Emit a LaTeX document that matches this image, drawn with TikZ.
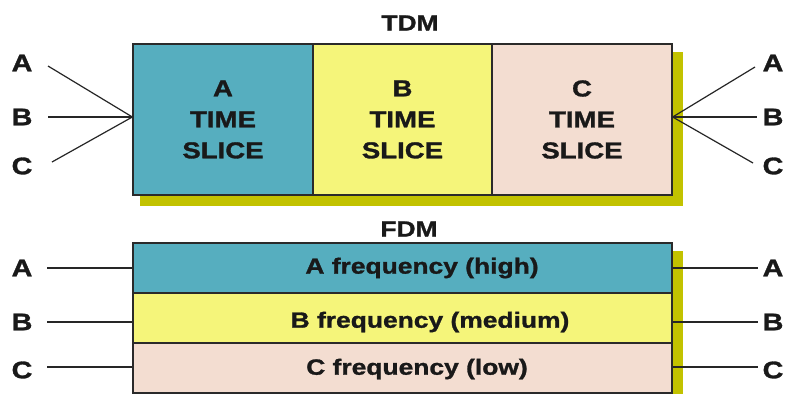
\documentclass[tikz,border=0pt]{standalone}
\usepackage{fontspec}
\setmainfont{Liberation Sans}[FakeStretch=1.2, BoldFeatures={FakeBold=1.3}]
\definecolor{tealA}{HTML}{56AEBF}
\definecolor{yelB}{HTML}{F5F57A}
\definecolor{pinkC}{HTML}{F3DDD1}
\definecolor{shadowc}{HTML}{C2C200}
\definecolor{edgec}{HTML}{2A2A2A}
\tikzset{
  cell/.style={draw=edgec, line width=1.3pt, inner sep=0pt, minimum height=151pt, minimum width=180pt, align=center,
    font=\bfseries\fontsize{23}{31}\selectfont, text=black!90},
  band/.style={draw=edgec, line width=1.3pt, inner sep=0pt, minimum height=50pt, minimum width=539pt},
  bandtxt/.style={font=\bfseries\fontsize{22}{26}\selectfont, text=black!90, inner sep=0pt},
  lbl/.style={font=\bfseries\fontsize{24}{26}\selectfont, text=black!90, inner sep=0pt},
  ttl/.style={font=\bfseries\fontsize{22}{26}\selectfont, text=black!90, inner sep=0pt},
  wire/.style={draw=black!85, line width=1.2pt},
  shadowbox/.style={fill=shadowc, draw=none}
}
\begin{document}
\begin{tikzpicture}[x=1pt,y=-1pt]
\useasboundingbox (0,0) rectangle (787,394);
\fill[white] (0,0) rectangle (787,394);
% ---------- TDM ----------
\node[ttl] (tdm) at (410,23) {TDM};
\fill[shadowbox] (140,52) rectangle (683,206);
\node[cell, fill=tealA] (ta) at (223,119.5) {A\\TIME\\SLICE};
\node[cell, fill=yelB, minimum width=179pt] (tb) at (402.5,119.5) {B\\TIME\\SLICE};
\node[cell, fill=pinkC] (tc) at (582,119.5) {C\\TIME\\SLICE};
% left labels
\node[lbl] (la) at (22,63) {A};
\node[lbl] (lb) at (22,117) {B};
\node[lbl] (lc) at (22,166) {C};
\coordinate (la1) at (48,66);
\coordinate (lb1) at (48,117);
\coordinate (lc1) at (52,162);
\draw[wire] (la1) -- (ta.west |- lb1);
\draw[wire] (lb1) -- (ta.west |- lb1);
\draw[wire] (lc1) -- (ta.west |- lb1);
% right labels
\node[lbl] (ra) at (773,63) {A};
\node[lbl] (rb) at (773,117) {B};
\node[lbl] (rc) at (773,166) {C};
\coordinate (ra1) at (755,67);
\coordinate (rb1) at (757,117);
\coordinate (rc1) at (753,163);
\draw[wire] (tc.east |- rb1) -- (ra1);
\draw[wire] (tc.east |- rb1) -- (rb1);
\draw[wire] (tc.east |- rb1) -- (rc1);
% ---------- FDM ----------
\node[ttl] (fdm) at (409,229) {FDM};
\fill[shadowbox] (140,251) rectangle (683,394);
\node[band, fill=tealA] (fa) at (402.5,268) {};
\node[band, fill=yelB] (fb) at (402.5,318) {};
\node[band, fill=pinkC] (fc) at (402.5,368) {};
\node[bandtxt] (fat) at (422,268) {A frequency (high)};
\node[bandtxt] (fbt) at (430,322) {B frequency (medium)};
\node[bandtxt] (fct) at (417,369) {C frequency (low)};
% left labels
\node[lbl] (fla) at (22,268) {A};
\node[lbl] (flb) at (22,322) {B};
\node[lbl] (flc) at (22,370) {C};
\coordinate (fla1) at (47,268);
\coordinate (flb1) at (47,322);
\coordinate (flc1) at (47,367);
\draw[wire] (fla1) -- (fla1 -| fa.west);
\draw[wire] (flb1) -- (flb1 -| fb.west);
\draw[wire] (flc1) -- (flc1 -| fc.west);
% right labels
\node[lbl] (fra) at (773,268) {A};
\node[lbl] (frb) at (773,322) {B};
\node[lbl] (frc) at (773,370) {C};
\coordinate (fra1) at (758,268);
\coordinate (frb1) at (758,322);
\coordinate (frc1) at (758,367);
\draw[wire] (fra1 -| fa.east) -- (fra1);
\draw[wire] (frb1 -| fb.east) -- (frb1);
\draw[wire] (frc1 -| fc.east) -- (frc1);
\end{tikzpicture}
\end{document}
